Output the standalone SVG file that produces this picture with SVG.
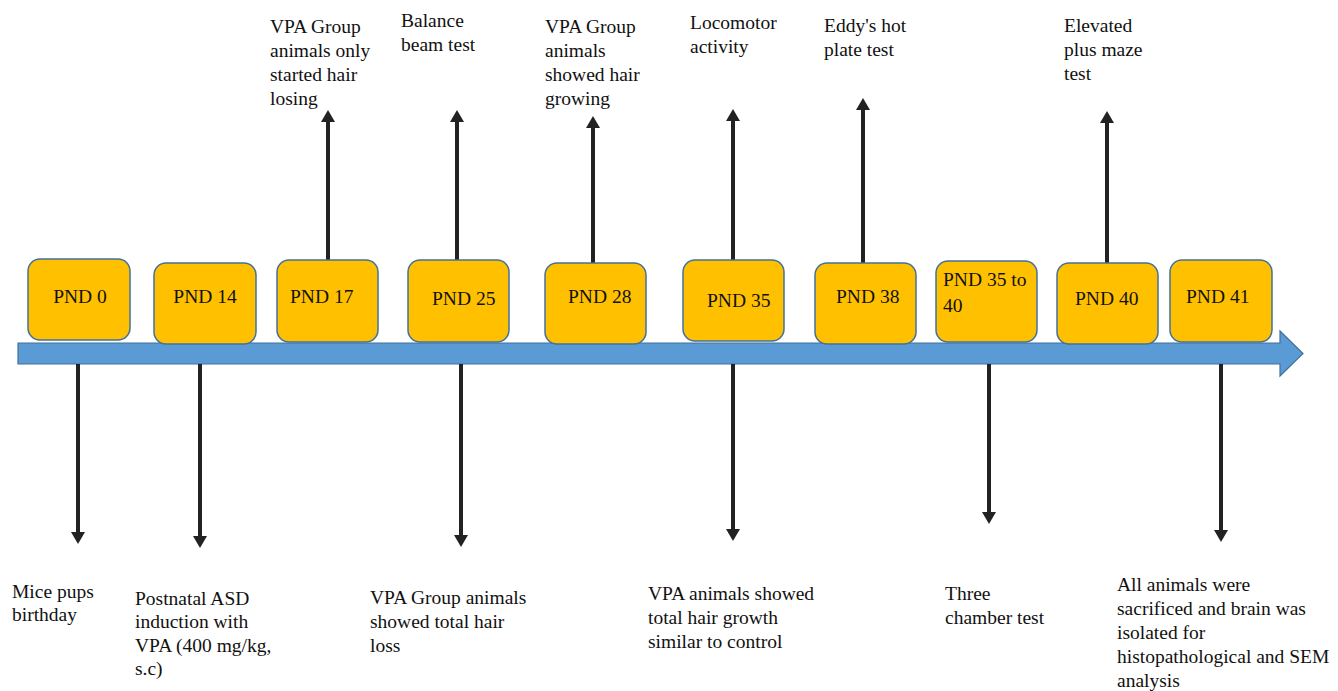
<svg xmlns="http://www.w3.org/2000/svg" width="1338" height="691" viewBox="0 0 1338 691">
<style>
.box{fill:#FFC000;stroke:#41719C;stroke-width:1.5}
text{font-family:Liberation Serif, Times New Roman, Times, serif;font-size:19.5px;fill:#111}
.c{stroke:#222;stroke-width:4;fill:none}
</style>
<defs>
<marker id="ah" markerUnits="userSpaceOnUse" markerWidth="12" markerHeight="14" viewBox="0 0 12 14" refX="0" refY="7" orient="auto">
<path d="M0,0 L12,7 L0,14 z" fill="#222"/>
</marker>
</defs>
<rect width="1338" height="691" fill="#fff"/>
<g id="timeline">
<polygon points="18,343 1280,343 1280,331 1303,353.5 1280,376 1280,364 18,364" fill="#5B9BD5" stroke="#41719C" stroke-width="1.2"/>
</g>
<g id="connectors">
<line class="c" x1="328" y1="260" x2="328" y2="122" marker-end="url(#ah)"/>
<line class="c" x1="457" y1="260" x2="457" y2="122" marker-end="url(#ah)"/>
<line class="c" x1="593" y1="263" x2="593" y2="128" marker-end="url(#ah)"/>
<line class="c" x1="733" y1="260" x2="733" y2="121" marker-end="url(#ah)"/>
<line class="c" x1="863" y1="263" x2="863" y2="110" marker-end="url(#ah)"/>
<line class="c" x1="1107" y1="263" x2="1107" y2="123" marker-end="url(#ah)"/>
<line class="c" x1="78" y1="364" x2="78" y2="532" marker-end="url(#ah)"/>
<line class="c" x1="200" y1="364" x2="200" y2="536" marker-end="url(#ah)"/>
<line class="c" x1="461" y1="364" x2="461" y2="535" marker-end="url(#ah)"/>
<line class="c" x1="733" y1="364" x2="733" y2="529" marker-end="url(#ah)"/>
<line class="c" x1="989" y1="364" x2="989" y2="512" marker-end="url(#ah)"/>
<line class="c" x1="1221" y1="364" x2="1221" y2="530" marker-end="url(#ah)"/>
</g>
<g id="pnd0"><rect class="box" x="28" y="259" width="102" height="81" rx="12"/><text font-family="Liberation Serif" x="80" y="303" text-anchor="middle">PND 0</text>
<text x="12" y="598">Mice pups</text><text x="12" y="621">birthday</text></g>
<g id="pnd14"><rect class="box" x="154" y="263" width="102" height="81" rx="12"/><text x="205" y="303" text-anchor="middle">PND 14</text>
<text x="135" y="605">Postnatal ASD</text><text x="135" y="628">induction with</text><text x="135" y="652">VPA (400 mg/kg,</text><text x="135" y="675">s.c)</text></g>
<g id="pnd17"><rect class="box" x="277" y="260" width="101" height="82" rx="12"/><text x="290" y="303">PND 17</text>
<text x="270" y="33">VPA Group</text><text x="270" y="57">animals only</text><text x="270" y="81">started hair</text><text x="270" y="105">losing</text></g>
<g id="pnd25"><rect class="box" x="408" y="260" width="101" height="82" rx="12"/><text x="432" y="305">PND 25</text>
<text x="401" y="27">Balance</text><text x="401" y="51">beam test</text>
<text x="370" y="604">VPA Group animals</text><text x="370" y="628">showed total hair</text><text x="370" y="652">loss</text></g>
<g id="pnd28"><rect class="box" x="545" y="263" width="101" height="81" rx="12"/><text x="568" y="303">PND 28</text>
<text x="545" y="33">VPA Group</text><text x="545" y="57">animals</text><text x="545" y="81">showed hair</text><text x="545" y="105">growing</text></g>
<g id="pnd35"><rect class="box" x="683" y="260" width="101" height="81" rx="12"/><text x="707" y="307">PND 35</text>
<text x="690" y="29">Locomotor</text><text x="690" y="53">activity</text>
<text x="648" y="600">VPA animals showed</text><text x="648" y="624">total hair growth</text><text x="648" y="648">similar to control</text></g>
<g id="pnd38"><rect class="box" x="815" y="263" width="101" height="81" rx="12"/><text x="836" y="303">PND 38</text>
<text x="824" y="32">Eddy's hot</text><text x="824" y="56">plate test</text></g>
<g id="pnd35to40"><rect class="box" x="936" y="261" width="101" height="81" rx="12"/><text x="943" y="286">PND 35 to</text><text x="943" y="312">40</text>
<text x="945" y="600">Three</text><text x="945" y="624">chamber test</text></g>
<g id="pnd40"><rect class="box" x="1057" y="263" width="101" height="81" rx="12"/><text x="1075" y="305">PND 40</text>
<text x="1064" y="32">Elevated</text><text x="1064" y="56">plus maze</text><text x="1064" y="80">test</text></g>
<g id="pnd41"><rect class="box" x="1170" y="260" width="102" height="82" rx="12"/><text x="1186" y="303">PND 41</text>
<text x="1117" y="591">All animals were</text><text x="1117" y="615">sacrificed and brain was</text><text x="1117" y="639">isolated for</text><text x="1117" y="663">histopathological and SEM</text><text x="1117" y="687">analysis</text></g>
</svg>
